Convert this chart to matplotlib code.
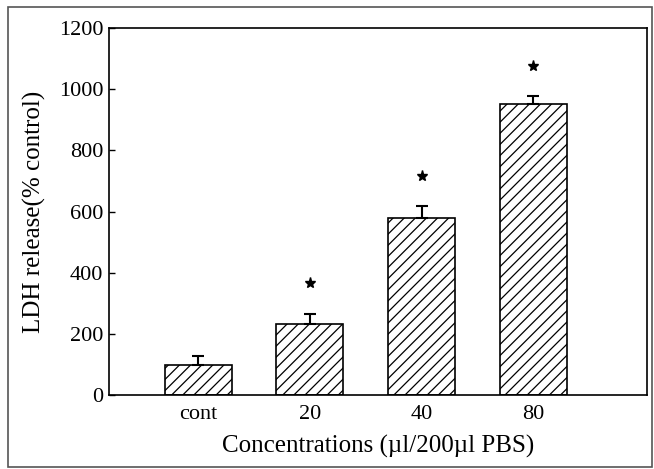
import matplotlib
matplotlib.use("Agg")
import matplotlib.pyplot as plt
from matplotlib.patches import Rectangle

categories = ["cont", "20", "40", "80"]
values = [97, 232, 578, 952]
errors = [32, 34, 41, 27]
star_y = [None, 367, 715, 1075]
yticks = [0, 200, 400, 600, 800, 1000, 1200]

plt.rcParams['font.family'] = ['Liberation Serif', 'DejaVu Serif']
plt.rcParams['hatch.linewidth'] = 0.9

fig = plt.figure(figsize=(6.54, 4.69), dpi=100)
ax = fig.add_axes([109/654, 74/469, 538/654, 367/469])

x = list(range(len(categories)))
ax.bar(x, values, width=0.6, color='white', edgecolor='black', hatch='///', linewidth=1.2, zorder=2)
ax.errorbar(x, values, yerr=[[0]*len(errors), errors], fmt='none', ecolor='black',
            elinewidth=1.5, capsize=4, capthick=1.5, zorder=3)
for xi, sy in zip(x, star_y):
    if sy is not None:
        ax.plot(xi, sy, marker='*', color='black', markersize=8, zorder=4)

ax.set_xlim(-0.8, 4.02)
ax.set_ylim(0, 1200)
ax.set_yticks(yticks)
ax.set_xticks(x)
ax.set_xticklabels(categories)
ax.tick_params(axis='y', direction='in', length=4, width=1, labelsize=16, pad=4)
ax.tick_params(axis='x', length=0, labelsize=16, pad=7)
for s in ax.spines.values():
    s.set_linewidth(1.2)

ax.set_ylabel("LDH release(% control)", fontsize=18, labelpad=9)
ax.set_xlabel("Concentrations (\u00b5l/200\u00b5l PBS)", fontsize=18, labelpad=8)

fig.patches.append(Rectangle((8/654, 2/469), 644/654, 460/469, transform=fig.transFigure,
                             fill=False, edgecolor='#555555', linewidth=1.2))

fig.savefig("out.png", dpi=100)
